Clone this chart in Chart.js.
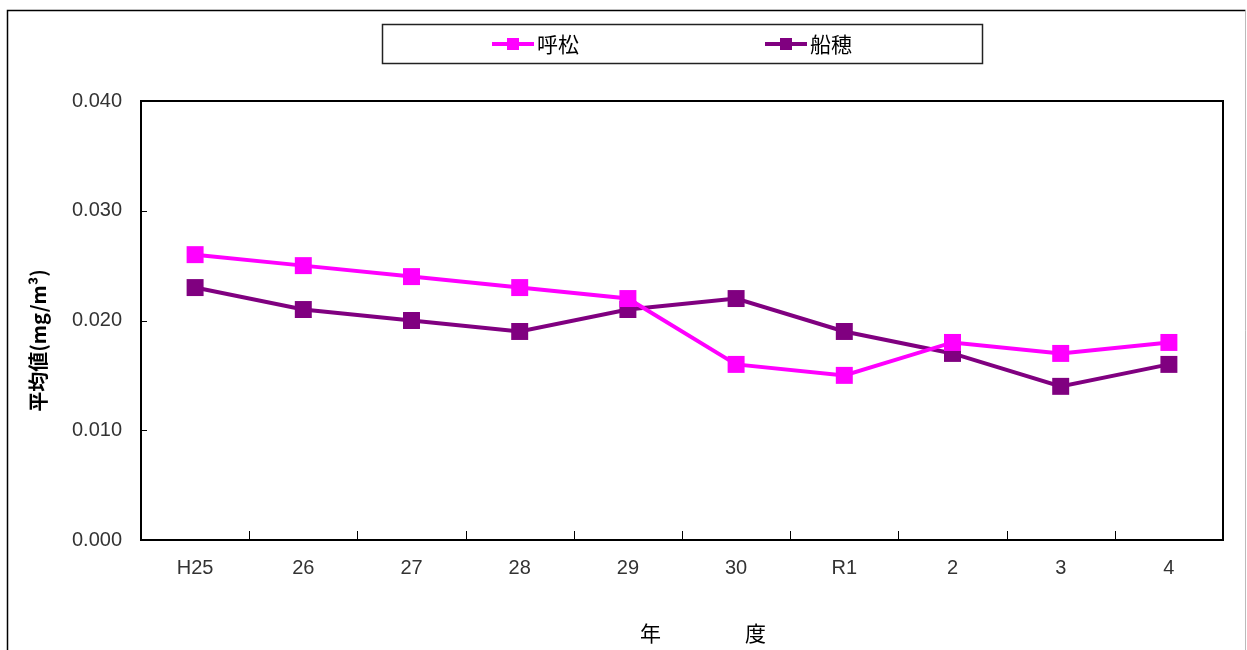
<!DOCTYPE html>
<html>
<head>
<meta charset="utf-8">
<script src="https://cdn.jsdelivr.net/npm/chart.js@4.4.1/dist/chart.umd.min.js"></script>
<style>
  html, body { margin: 0; padding: 0; background: #fff; }
  #wrap { width: 1247px; height: 650px; position: relative; }
</style>
</head>
<body>
<div id="wrap"><canvas id="chart"></canvas></div>
<script>
const YEARS = ["H25", "26", "27", "28", "29", "30", "R1", "2", "3", "4"];
const KOMATSU = [0.026, 0.025, 0.024, 0.023, 0.022, 0.016, 0.015, 0.018, 0.017, 0.018];
const FUNAO = [0.023, 0.021, 0.020, 0.019, 0.021, 0.022, 0.019, 0.017, 0.014, 0.016];
const SERIES_NAMES = ["呼松", "船穂"];
const SERIES_COLORS = ["#ff00ff", "#800080"];

const TICK_FONT = { family: "'Liberation Sans', Arial, sans-serif", size: 20 };
const CJK = "'Noto Sans CJK JP', sans-serif";

// frame, plot border, inward tick marks, boxed legend
const decorations = {
  id: "decorations",
  beforeDraw(chart) {
    const ctx = chart.ctx;
    ctx.save();
    ctx.fillStyle = "#fff";
    ctx.fillRect(0, 0, chart.width, chart.height);
    ctx.strokeStyle = "#000";
    ctx.lineWidth = 1.5;
    ctx.beginPath();
    ctx.moveTo(7.5, chart.height);
    ctx.lineTo(7.5, 10.5);
    ctx.lineTo(1245.5, 10.5);
    ctx.stroke();
    ctx.strokeStyle = "#bbb";
    ctx.lineWidth = 1;
    ctx.beginPath();
    ctx.moveTo(1245.5, 10.5);
    ctx.lineTo(1245.5, chart.height);
    ctx.stroke();
    ctx.restore();
  },
  afterDatasetsDraw(chart) {
    const ctx = chart.ctx;
    const a = chart.chartArea;
    const x = chart.scales.x;
    const y = chart.scales.y;
    ctx.save();
    ctx.strokeStyle = "#000";
    ctx.lineWidth = 1;
    ctx.beginPath();
    y.ticks.forEach((t) => {
      const py = Math.round(y.getPixelForValue(t.value)) + 0.5;
      ctx.moveTo(a.left, py);
      ctx.lineTo(a.left + 6, py);
    });
    for (let i = 1; i < YEARS.length; i++) {
      const px = Math.round((x.getPixelForValue(i - 1) + x.getPixelForValue(i)) / 2) + 0.5;
      ctx.moveTo(px, a.bottom);
      ctx.lineTo(px, a.bottom - 9);
    }
    ctx.stroke();
    ctx.lineWidth = 2;
    ctx.strokeRect(a.left, a.top, a.right - a.left, a.bottom - a.top);

    // legend
    ctx.lineWidth = 1.5;
    ctx.strokeStyle = "#222";
    ctx.strokeRect(382.5, 24.5, 600, 39);
    const items = [{ x0: 492 }, { x0: 765 }];
    items.forEach((it, i) => {
      const ds = chart.data.datasets[i];
      ctx.strokeStyle = ds.borderColor;
      ctx.lineWidth = 4;
      ctx.beginPath();
      ctx.moveTo(it.x0, 44);
      ctx.lineTo(it.x0 + 42, 44);
      ctx.stroke();
      ctx.fillStyle = ds.borderColor;
      ctx.fillRect(it.x0 + 15, 38, 12, 12);
      ctx.fillStyle = "#000";
      ctx.font = "21px " + CJK;
      ctx.textBaseline = "middle";
      ctx.textAlign = "left";
      ctx.fillText(ds.label, it.x0 + 45, 44);
    });
    ctx.restore();
  },
};

function makeDataset(label, data, color) {
  return {
    label,
    data,
    borderColor: color,
    backgroundColor: color,
    borderWidth: 4,
    pointStyle: "rect",
    pointRadius: 12,
    pointHoverRadius: 12,
    pointBorderWidth: 0,
    tension: 0,
  };
}

new Chart(document.getElementById("chart"), {
  type: "line",
  data: {
    labels: YEARS,
    datasets: [
      makeDataset(SERIES_NAMES[0], KOMATSU, SERIES_COLORS[0]),
      makeDataset(SERIES_NAMES[1], FUNAO, SERIES_COLORS[1]),
    ],
  },
  options: {
    responsive: true,
    maintainAspectRatio: false,
    animation: false,
    layout: { padding: { top: 101, right: 24, left: 0, bottom: 0 } },
    plugins: {
      legend: { display: false },
      tooltip: { enabled: false },
    },
    scales: {
      x: {
        offset: true,
        grid: { display: false, drawTicks: false },
        border: { display: false },
        ticks: { color: "#333", font: TICK_FONT, padding: 16, maxRotation: 0 },
        title: {
          display: true,
          text: "　　年　　　　度",
          color: "#000",
          font: { family: CJK, size: 21 },
          padding: { top: 22 },
        },
        afterFit: (scale) => { scale.height = 110; },
      },
      y: {
        min: 0,
        max: 0.04,
        grid: { display: false, drawTicks: false },
        border: { display: false },
        ticks: {
          stepSize: 0.01,
          color: "#333",
          font: TICK_FONT,
          padding: 19,
          callback: (v) => v.toFixed(3),
        },
        title: {
          display: true,
          text: "平均値(mg/m³)　　",
          color: "#000",
          font: { family: CJK, size: 20, weight: "bold" },
          padding: { top: 26, bottom: 0 },
        },
        afterFit: (scale) => { scale.width = 141; },
      },
    },
  },
  plugins: [decorations],
});
</script>
</body>
</html>
